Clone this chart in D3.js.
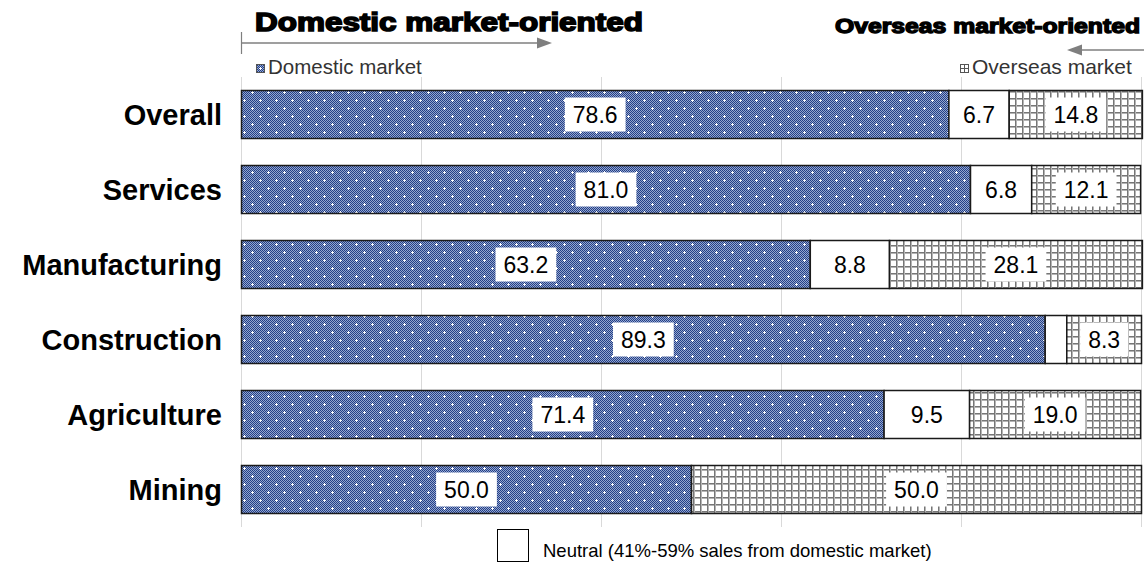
<!DOCTYPE html>
<html>
<head>
<meta charset="utf-8">
<script src="https://cdn.jsdelivr.net/npm/d3@7"></script>
<style>
  html, body { margin: 0; padding: 0; background: #fff; }
  svg { display: block; font-family: "Liberation Sans", Arial, sans-serif; }
</style>
</head>
<body>
<svg id="chart" width="1144" height="562"></svg>
<script>
// Share of sales by market orientation (%)
const categories = ["Overall", "Services", "Manufacturing", "Construction", "Agriculture", "Mining"];
const domestic   = [78.6, 81.0, 63.2, 89.3, 71.4, 50.0];
const neutral    = [6.7, 6.8, 8.8, 2.4, 9.5, 0.0];
const overseas   = [14.8, 12.1, 28.1, 8.3, 19.0, 50.0];
const xTicks     = [0, 20, 40, 60, 80, 100];
const seriesKeys = ["domestic", "neutral", "overseas"];

const svg = d3.select("#chart");
const defs = svg.append("defs");

// Dotted blue fill for the domestic segments
const pDom = defs.append("pattern").attr("id", "pDom")
  .attr("patternUnits", "userSpaceOnUse").attr("width", 16).attr("height", 16);
pDom.append("rect").attr("width", 16).attr("height", 16).attr("fill", "#94a6cf");
for (let yy = 0; yy < 16; yy++) {
  for (let xx = 0; xx < 16; xx++) {
    if ((xx + yy) % 2 === 0) {
      pDom.append("rect").attr("x", xx).attr("y", yy).attr("width", 1).attr("height", 1).attr("fill", "#233f86");
    }
  }
}
[[4, 4], [12, 12]].forEach(([cx, cy]) => {
  pDom.append("rect").attr("x", cx - 1).attr("y", cy).attr("width", 3).attr("height", 1).attr("fill", "#fff");
  pDom.append("rect").attr("x", cx).attr("y", cy - 1).attr("width", 1).attr("height", 3).attr("fill", "#fff");
});

// Grey grid fill for the overseas segments
const pOv = defs.append("pattern").attr("id", "pOv")
  .attr("patternUnits", "userSpaceOnUse").attr("width", 7).attr("height", 7);
pOv.append("rect").attr("width", 7).attr("height", 7).attr("fill", "#fff");
pOv.append("rect").attr("x", 0).attr("y", 0).attr("width", 7).attr("height", 1).attr("fill", "#767676");
pOv.append("rect").attr("x", 0).attr("y", 1).attr("width", 7).attr("height", 1).attr("fill", "#b4b4b4");
pOv.append("rect").attr("x", 0).attr("y", 0).attr("width", 1).attr("height", 7).attr("fill", "#767676");
pOv.append("rect").attr("x", 1).attr("y", 0).attr("width", 1).attr("height", 7).attr("fill", "#b4b4b4");

const fills = { domestic: "url(#pDom)", neutral: "#ffffff", overseas: "url(#pOv)" };

const x = d3.scaleLinear().domain([0, 100]).range([241.5, 1141.5]);
const y = d3.scaleBand().domain(categories).range([77, 527]).paddingInner(0.36).paddingOuter(0.18);

// Vertical gridlines
svg.append("g").selectAll("line").data(xTicks).join("line")
  .attr("x1", d => x(d)).attr("x2", d => x(d))
  .attr("y1", 77).attr("y2", 527)
  .attr("stroke", "#d9d9d9").attr("stroke-width", 1);

// Stack the three series
const rows = categories.map((c, i) => ({
  category: c, domestic: domestic[i], neutral: neutral[i], overseas: overseas[i]
}));
const stacked = d3.stack().keys(seriesKeys)(rows);

const segs = [];
stacked.forEach(layer => {
  layer.forEach(d => {
    segs.push({ key: layer.key, category: d.data.category, x0: d[0], x1: d[1], value: d.data[layer.key] });
  });
});

const barG = svg.append("g");
barG.selectAll("rect").data(segs.filter(s => s.value > 0)).join("rect")
  .attr("x", d => x(d.x0))
  .attr("y", d => y(d.category))
  .attr("width", d => x(d.x1) - x(d.x0))
  .attr("height", y.bandwidth())
  .attr("fill", d => fills[d.key])
  .attr("stroke", "#1a1a1a")
  .attr("stroke-width", 1.5);

// Value labels on white boxes
const labelG = svg.append("g");
segs.filter(s => s.value >= 3).forEach(s => {
  const cx = (x(s.x0) + x(s.x1)) / 2;
  const cy = y(s.category) + y.bandwidth() / 2;
  const g = labelG.append("g");
  const t = g.append("text")
    .attr("x", cx).attr("y", cy).attr("dy", "0.36em")
    .attr("text-anchor", "middle")
    .attr("font-size", 23).attr("fill", "#000")
    .text(s.value.toFixed(1));
  const w = t.node().getComputedTextLength() + 16;
  g.insert("rect", "text")
    .attr("x", cx - w / 2).attr("y", cy - 17)
    .attr("width", w).attr("height", 34)
    .attr("fill", "#fff");
});

// Category labels
svg.append("g").selectAll("text").data(categories).join("text")
  .attr("x", 222)
  .attr("y", d => y(d) + y.bandwidth() / 2)
  .attr("dy", "0.36em")
  .attr("text-anchor", "end")
  .attr("font-size", 29).attr("font-weight", "bold").attr("fill", "#000")
  .text(d => d);

// Headers with direction arrows
svg.append("text")
  .attr("x", 255).attr("y", 31)
  .attr("font-size", 26).attr("font-weight", "bold")
  .attr("stroke", "#000").attr("stroke-width", 1.6)
  .attr("textLength", 388).attr("lengthAdjust", "spacingAndGlyphs")
  .text("Domestic market-oriented");

svg.append("text")
  .attr("x", 835).attr("y", 33)
  .attr("font-size", 21).attr("font-weight", "bold")
  .attr("stroke", "#000").attr("stroke-width", 1.4)
  .attr("textLength", 305).attr("lengthAdjust", "spacingAndGlyphs")
  .text("Overseas market-oriented");

const arrowCol = "#7f7f7f";
svg.append("line").attr("x1", x(0)).attr("x2", x(0)).attr("y1", 32).attr("y2", 54)
  .attr("stroke", arrowCol).attr("stroke-width", 1.2);
svg.append("line").attr("x1", x(0)).attr("x2", 538).attr("y1", 43).attr("y2", 43)
  .attr("stroke", arrowCol).attr("stroke-width", 1.5);
svg.append("path").attr("d", "M537,37.5 L552,43 L537,48.5 Z").attr("fill", arrowCol);

svg.append("line").attr("x1", 1080).attr("x2", 1144).attr("y1", 50).attr("y2", 50)
  .attr("stroke", arrowCol).attr("stroke-width", 1.5);
svg.append("path").attr("d", "M1082,44.5 L1067,50 L1082,55.5 Z").attr("fill", arrowCol);

// Series legend entries
svg.append("rect").attr("x", 256.5).attr("y", 64.5).attr("width", 8).attr("height", 8)
  .attr("fill", "url(#pDom)").attr("stroke", "#555").attr("stroke-width", 1);
svg.append("text").attr("x", 268).attr("y", 74)
  .attr("font-size", 20.5).attr("fill", "#333").text("Domestic market");

svg.append("rect").attr("x", 960.5).attr("y", 64.5).attr("width", 8).attr("height", 8)
  .attr("fill", "#fff").attr("stroke", "#555").attr("stroke-width", 1);
svg.append("path").attr("d", "M960.5,68.5 H968.5 M964.5,64.5 V72.5")
  .attr("stroke", "#555").attr("stroke-width", 1);
svg.append("text").attr("x", 972).attr("y", 74)
  .attr("font-size", 21).attr("fill", "#333").text("Overseas market");

// Neutral legend
svg.append("rect").attr("x", 497.5).attr("y", 529.5).attr("width", 31).attr("height", 32)
  .attr("fill", "#fff").attr("stroke", "#000").attr("stroke-width", 1);
svg.append("text").attr("x", 543).attr("y", 557)
  .attr("font-size", 18.5).attr("fill", "#000")
  .text("Neutral (41%-59% sales from domestic market)");
</script>
</body>
</html>
